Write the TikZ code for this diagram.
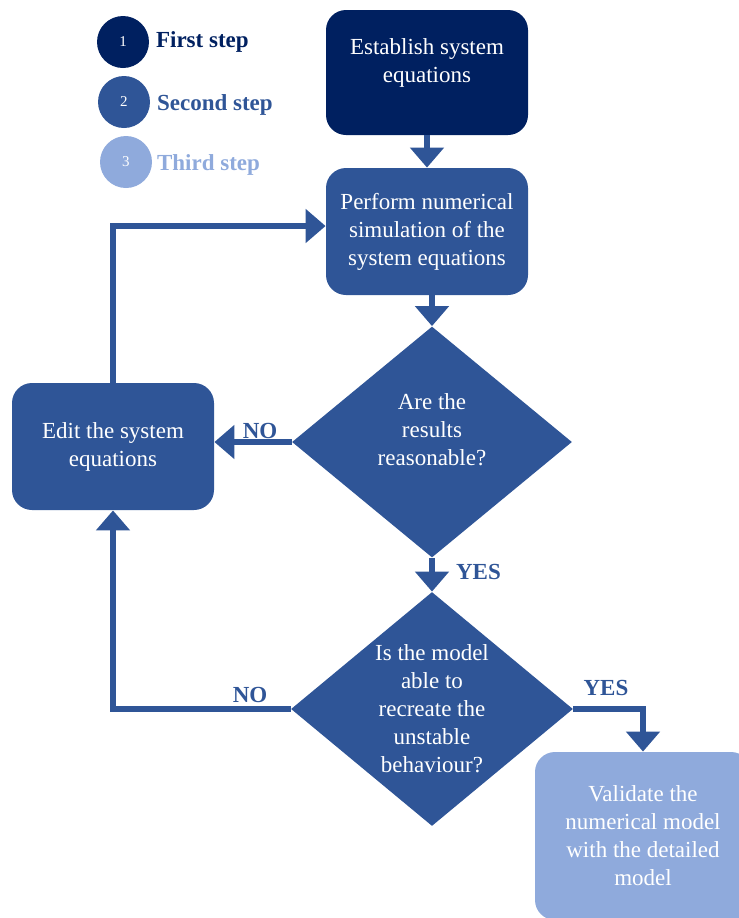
\documentclass[tikz,border=0pt]{standalone}
\usepackage{fontspec}
\setmainfont{Liberation Serif}
\usetikzlibrary{arrows.meta, shapes.geometric, positioning}
\definecolor{navy}{RGB}{0,32,96}
\definecolor{midblue}{RGB}{47,85,151}
\definecolor{lightblue}{RGB}{143,170,220}
\tikzset{stepbox/.style = {rectangle, rounded corners=10pt, text=white, align=center, inner sep=0pt, minimum width=101pt, minimum height=63pt, font=\fontsize{11.5}{14}\selectfont}}
\tikzset{decision/.style = {diamond, fill=midblue, text=white, align=center, inner sep=0pt, aspect=1.2, font=\fontsize{11.5}{14}\selectfont}}
\tikzset{flow/.style = {draw=midblue, line width=3pt, -{Triangle[width=16.5pt, length=10pt]}}}
\tikzset{answer/.style = {text=midblue, font=\bfseries\fontsize{11.5}{14}\selectfont}}
\tikzset{legenddot/.style = {circle, minimum size=26pt, inner sep=0pt, text=white, font=\fontsize{7.5}{9}\selectfont}}

\begin{document}
\begin{tikzpicture}[x=0.5pt, y=-0.5pt]
    \useasboundingbox (0,0) rectangle (739,918);
    \clip (0,0) rectangle (739,918);
    \node[legenddot, fill=navy] (dot1) at (123,42) {1};
    \node[legenddot, fill=midblue] (dot2) at (124,102) {2};
    \node[legenddot, fill=lightblue] (dot3) at (126,162) {3};
    \node[anchor=west, text=navy, font=\bfseries\fontsize{11.5}{14}\selectfont] (key1) at (149,42) {First step};
    \node[anchor=west, text=midblue, font=\bfseries\fontsize{11.5}{14}\selectfont] (key2) at (150,105) {Second step};
    \node[anchor=west, text=lightblue, font=\bfseries\fontsize{11.5}{14}\selectfont] (key3) at (150,165) {Third step};
    \node[stepbox, fill=navy, minimum height=62.5pt, text depth=11.5pt] (establish) at (427,72.5) {Establish system\\equations};
    \node[stepbox, fill=midblue, minimum height=63.5pt] (simulate) at (427,231.5) {Perform numerical\\simulation of the\\system equations};
    \node[decision, minimum width=140pt, minimum height=115.5pt] (check1) at (432,442) {};
    \node[text=white, align=center, font=\fontsize{11.5}{14}\selectfont] (check1text) at (432,430) {Are the\\results\\reasonable?};
    \node[stepbox, fill=midblue, minimum height=63.5pt] (edit) at (113,446.5) {Edit the system\\equations};
    \node[decision, minimum width=141pt, minimum height=117pt] (check2) at (432,709) {Is the model\\able to\\recreate the\\unstable\\behaviour?};
    \node[stepbox, fill=lightblue, minimum width=108pt, minimum height=84pt] (validate) at (643,836) {Validate the\\numerical model\\with the detailed\\model};
    \draw[flow] (establish) -- (simulate);
    \draw[flow] (check1.north |- simulate.south) -- (check1.north);
    \draw[flow] (check1.west) -- (edit.east |- check1.west);
    \draw[flow] (edit.north) |- (simulate.west |- 0,226);
    \draw[flow] (check1.south) -- (check2.north);
    \draw[flow] (check2.west) -| (edit.south);
    \draw[flow] (check2.east) -| (validate.north);
    \node[answer] (no1) at (260,431) {NO};
    \node[answer, anchor=west] (yes1) at (449,572) {YES};
    \node[answer] (no2) at (250,695) {NO};
    \node[answer] (yes2) at (606,688) {YES};
\end{tikzpicture}
\end{document}
